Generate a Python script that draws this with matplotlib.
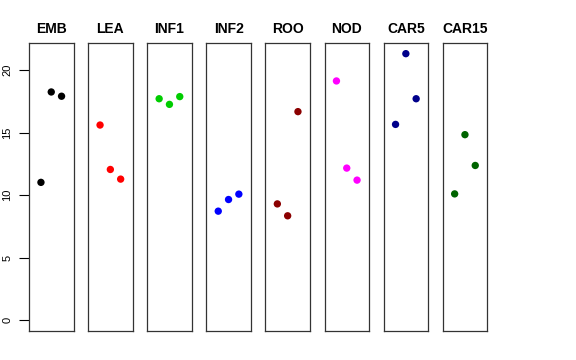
import matplotlib.pyplot as plt

plt.rcParams["font.family"] = ["Liberation Sans", "DejaVu Sans"]

tissues = ["EMB", "LEA", "INF1", "INF2", "ROO", "NOD", "CAR5", "CAR15"]
colors = ["black", "#FF0000", "#00CD00", "#0000FF", "#8B0000", "#FF00FF", "#00008B", "#006400"]

emb = [11.02, 18.24, 17.9]
lea = [15.6, 12.05, 11.28]
inf1 = [17.7, 17.25, 17.87]
inf2 = [8.72, 9.65, 10.08]
roo = [9.3, 8.35, 16.67]
nod = [19.12, 12.16, 11.2]
car5 = [15.65, 21.3, 17.7]
car15 = [10.1, 14.83, 12.37]
values = [emb, lea, inf1, inf2, roo, nod, car5, car15]

reps = [1, 2, 3]
yticks = [0, 5, 10, 15, 20]

W, H = 576, 360
fig = plt.figure(figsize=(W / 100, H / 100), dpi=100)

ymax = max(max(v) for v in values)
pad = 0.04 * ymax

for i, (name, col, vals) in enumerate(zip(tissues, colors, values)):
    left = 29 + 59.1 * i
    ax = fig.add_axes([left / W, (H - 331) / H, 44.5 / W, 288 / H])
    ax.scatter(reps, vals, s=28, color=col, edgecolors="none", zorder=3)
    ax.set_xlim(-0.16, 4.16)
    ax.set_ylim(-pad, ymax + pad)
    ax.set_xticks([])
    for sp in ax.spines.values():
        sp.set_color("#333333")
        sp.set_linewidth(0.9)
    ax.set_title(name, fontsize=10, fontweight="bold", pad=7)
    if i == 0:
        ax.set_yticks(yticks)
        ax.set_yticklabels([str(t) for t in yticks], rotation=90, va="center", fontsize=8)
        ax.tick_params(axis="y", length=7, width=0.8, pad=5)
    else:
        ax.set_yticks([])

fig.savefig("out.png", dpi=100)
